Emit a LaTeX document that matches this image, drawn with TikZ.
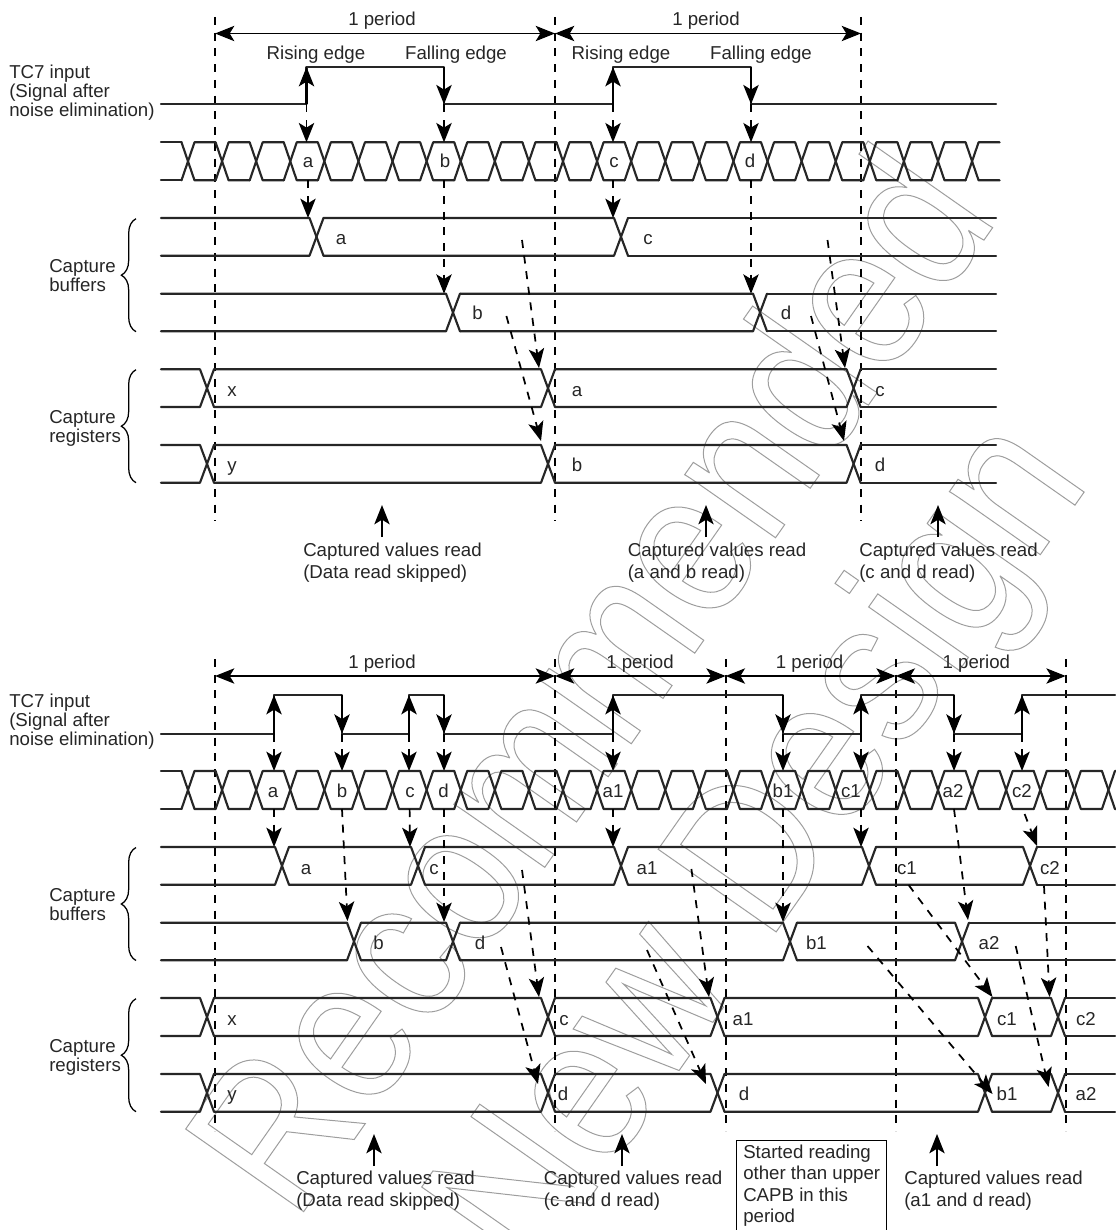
\documentclass[tikz,border=0pt]{standalone}
\usepackage{fontspec}
\setmainfont{Liberation Sans}
\newfontfamily\markfont[FakeStretch=0.865]{Liberation Sans}
\usetikzlibrary{arrows.meta,decorations.pathreplacing}

\newcommand{\lane}[5]{%
  \foreach \c [remember=\c as \p (initially #3-7)] in {#4} {
    \draw[wire] (\p+7,#1) -- (\c-7,#1) -- (\c+7,#2);
    \draw[wire] (\p+7,#2) -- (\c-7,#2) -- (\c+7,#1);
    \xdef\lastc{\c}
  }
  \draw[wire] (\lastc+7,#1) -- (#5,#1);
  \draw[wire] (\lastc+7,#2) -- (#5,#2);
}

\newcommand{\buslane}[3]{%
  \draw[wire] (161,#1) -- (181.5,#1);
  \draw[wire] (161,#2) -- (181.5,#2);
  \foreach \k in {0,...,#3} {
    \pgfmathsetmacro{\c}{188+34.09*\k}
    \draw[wire] (\c-6.5,#1) -- (\c+6.5,#2) -- (\c+27.59,#2);
    \draw[wire] (\c-6.5,#2) -- (\c+6.5,#1) -- (\c+27.59,#1);
  }
}

\newcommand{\hollowtext}[1]{\special{pdf:code 1 Tr 0.75 w 0.62 G}#1\special{pdf:code 0 Tr}}

\begin{document}
\begin{tikzpicture}[
    x=0.75pt,
    y=-0.75pt,
    bigtip/.tip={Stealth[length=14.5pt,width=11.5pt,inset=3.5pt]},
    textfont/.style={
        font=\fontsize{14}{#1}\selectfont,
        text=black!85
    },
    wire/.style={
        draw=black!85,
        line width=1.6pt,
        line cap=round,
        line join=round
    },
    guide/.style={
        black,
        line width=1.3pt,
        dash pattern=on 6pt off 5.8pt
    },
    arrow/.style={
        -bigtip,
        black,
        line width=1.6pt
    },
    dasharrow/.style={
        -bigtip,
        black,
        line width=1.3pt,
        dash pattern=on 6pt off 5.8pt
    },
    span/.style={
        bigtip-bigtip,
        black,
        line width=1.2pt
    },
    readarrow/.style={
        -bigtip,
        black,
        line width=1.1pt
    },
    curly/.style={
        decorate,
        decoration={brace,amplitude=11pt,aspect=0.5},
        black,
        line width=0.95pt
    },
    tag/.style={
        textfont=15,
        anchor=base,
        inner sep=0pt
    },
    side/.style={
        textfont=14.25,
        anchor=west,
        align=left,
        inner sep=0pt
    },
    note/.style={
        textfont=16.5,
        anchor=west,
        align=left,
        inner sep=0pt
    },
    remark/.style={
        textfont=16,
        draw=black,
        line width=1.1pt,
        anchor=north west,
        align=left,
        minimum width=112.5pt,
        minimum height=72pt,
        inner xsep=4.5pt,
        inner ysep=0pt
    },
    hollow/.style={
        font=\markfont\fontsize{157}{160}\selectfont,
        anchor=base west,
        rotate=55,
        inner sep=0pt
    }
]
\useasboundingbox (0,0) rectangle (1115,1230);

\node[hollow] (markrec) at (295,1224) {\hollowtext{Recommended}};
\node[hollow] (markdes) at (531,1282) {\hollowtext{New Design}};

\foreach \x in {215,555,861} {
    \draw[guide] (\x,17) -- (\x,521);
}

\foreach \xa/\xb/\xt/\n in {215/555/382/a, 555/861/706/b} {
    \coordinate (pfrom\n) at (\xa,33.5);
    \coordinate (pto\n) at (\xb,33.5);
    \draw[span] (pfrom\n) -- (pto\n);
    \node[tag] (ptext\n) at (\xt,25.7) {1 period};
}

\node[tag] (risea) at (316,59.3) {Rising edge};
\node[tag] (falla) at (456,59.3) {Falling edge};
\node[tag] (riseb) at (621,59.3) {Rising edge};
\node[tag] (fallb) at (761,59.3) {Falling edge};

\node[side] (tcinput) at (9,92.5) {TC7 input\\(Signal after\\noise elimination)};
\draw[wire] (161,104.3) -| (306.5,67) -| (444,104.3) -| (613,67) -| (751,104.3) -- (996,104.3);
\foreach \x/\ya/\yb/\n in {306.5/104.3/67/a, 444/67/104.3/b, 613/104.3/67/c, 751/67/104.3/d} {
    \coordinate (edgefrom\n) at (\x,\ya);
    \coordinate (edgeto\n) at (\x,\yb);
    \draw[arrow] (edgefrom\n) -- (edgeto\n);
}

\buslane{142.3}{180.3}{23}
\foreach \x/\t in {308/a, 445/b, 614/c, 750/d} {
    \node[tag] (slot\t) at (\x,168) {\t};
}
\foreach \x/\n in {306.5/a, 444/b, 613/c, 751/d} {
    \coordinate (latch\n) at (\x,104.3);
    \coordinate (slottop\n) at (\x,142.3);
    \draw[dasharrow] (latch\n) -- (slottop\n);
}

\lane{218}{255.7}{161}{316.5,621}{996}
\lane{293.7}{331.3}{161}{453,760}{996}
\node[tag] (bufa) at (341,244.3) {a};
\node[tag] (bufc) at (648,244.3) {c};
\node[tag] (bufb) at (477.5,320) {b};
\node[tag] (bufd) at (786,320) {d};

\foreach \x/\y/\n in {308/218/a, 444/293.7/b, 613/218/c, 751/293.7/d} {
    \coordinate (slotlow\n) at (\x,180.3);
    \coordinate (bufin\n) at (\x,\y);
    \draw[dasharrow] (slotlow\n) -- (bufin\n);
}

\coordinate (bufbot) at (136,331.7);
\coordinate (buftop) at (136,218.7);
\draw[curly] (bufbot) -- (buftop);
\node[side] (bufname) at (49,275.5) {Capture\\buffers};

\lane{369.3}{407}{161}{207,548,853.6}{996}
\lane{445}{482.7}{161}{207,548,853.6}{996}
\foreach \x/\t/\n in {232/x/a, 577/a/b, 880/c/c} {
    \node[tag] (regu\n) at (\x,396) {\t};
}
\foreach \x/\t/\n in {232/y/a, 577/b/b, 880/d/c} {
    \node[tag] (regl\n) at (\x,471) {\t};
}

\foreach \xa/\ya/\xb/\yb/\n in {522/240/539/368/a, 506.4/316/541/441/b, 827.5/240/845/368/c, 811/316/844/441/d} {
    \coordinate (movefrom\n) at (\xa,\ya);
    \coordinate (moveto\n) at (\xb,\yb);
    \draw[dasharrow] (movefrom\n) -- (moveto\n);
}

\coordinate (regbot) at (136,482.7);
\coordinate (regtop) at (136,369.7);
\draw[curly] (regbot) -- (regtop);
\node[side] (regname) at (49,428) {Capture\\registers};

\node[note] (reada) at (303,563) {Captured values read\\(Data read skipped)};
\node[note] (readb) at (627.5,563) {Captured values read\\(a and b read)};
\node[note] (readc) at (859,563) {Captured values read\\(c and d read)};
\foreach \x/\n in {382/a, 706/b, 938/c} {
    \coordinate (readfrom\n) at (\x,537);
    \coordinate (readto\n) at (\x,505);
    \draw[readarrow] (readfrom\n) -- (readto\n);
}

\foreach \x in {215,555,725.7,895.7,1065.7} {
    \draw[guide] (\x,659) -- (\x,1131);
}

\foreach \xa/\xb/\xt/\n in {215/555/382/c, 555/725.7/640/d, 725.7/895.7/809.6/e, 895.7/1065.7/976.4/f} {
    \coordinate (pfrom\n) at (\xa,676);
    \coordinate (pto\n) at (\xb,676);
    \draw[span] (pfrom\n) -- (pto\n);
    \node[tag] (ptext\n) at (\xt,668.3) {1 period};
}

\node[side] (tcinputb) at (9,721.5) {TC7 input\\(Signal after\\noise elimination)};
\draw[wire] (161,733.7) -| (274,695) -| (342,733.7) -| (409,695) -| (444,733.7) -| (613,695) -| (783,733.7) -| (861,695) -| (954,733.7) -| (1022,695) -- (1115,695);
\foreach \x/\ya/\yb/\n in {274/733.7/695/e, 342/695/733.7/f, 409/733.7/695/g, 444/695/733.7/h, 613/733.7/695/i, 783/695/733.7/j, 861/733.7/695/k, 954/695/733.7/l, 1022/733.7/695/m} {
    \coordinate (edgefrom\n) at (\x,\ya);
    \coordinate (edgeto\n) at (\x,\yb);
    \draw[arrow] (edgefrom\n) -- (edgeto\n);
    \coordinate (latch\n) at (\x,733.7);
    \coordinate (slottop\n) at (\x,771);
    \draw[dasharrow] (latch\n) -- (slottop\n);
}

\buslane{771}{809}{27}
\foreach \x/\t in {273/a, 342/b, 410/c, 443.6/d, 613/a1, 783/b1, 851/c1, 953/a2, 1022/c2} {
    \node[tag] (slotb\t) at (\x,797) {\t};
}

\lane{847}{884.7}{161}{282,418,621,869,1030}{1115}
\lane{922.7}{960.3}{161}{354,453,790,962}{1115}
\foreach \x/\t in {306/a, 434/c, 647/a1, 907/c1, 1050/c2} {
    \node[tag] (bufu\t) at (\x,874) {\t};
}
\foreach \x/\t in {378.6/b, 480/d, 816.4/b1, 989/a2} {
    \node[tag] (bufl\t) at (\x,949) {\t};
}

\foreach \xa/\ya/\xb/\yb/\n in {274/809/274/847/e, 342/809/347.5/921/f, 409.6/809/410/847/g, 444/809/444/922/h, 613/809/613/847/i, 783/809/783/922/j, 861/809/861/847/k, 954/809/968/920/l, 1024.6/814/1037/846/m} {
    \coordinate (slotlow\n) at (\xa,\ya);
    \coordinate (bufin\n) at (\xb,\yb);
    \draw[dasharrow] (slotlow\n) -- (bufin\n);
}

\coordinate (bufbotb) at (136,960.5);
\coordinate (buftopb) at (136,847.5);
\draw[curly] (bufbotb) -- (buftopb);
\node[side] (bufnameb) at (49,905) {Capture\\buffers};

\lane{998}{1036}{161}{207,548,717.5,985,1058}{1115}
\lane{1074}{1111.7}{161}{207,548,717.5,985,1058}{1115}
\foreach \x/\t in {232/x, 564/c, 743/a1, 1007/c1, 1086/c2} {
    \node[tag] (regu\t) at (\x,1025) {\t};
}
\foreach \x/\t/\n in {232/y/a, 563/d/b, 744/d/c, 1007/b1/d, 1086/a2/e} {
    \node[tag] (regl2\n) at (\x,1100) {\t};
}

\foreach \xa/\ya/\xb/\yb/\n in {522/870/539/997/e, 501/947/538/1084/f, 691.4/869/709/997/g, 647/950/706/1084/h, 908.6/885/992.5/997/i, 867.5/946/992.5/1094/j, 1044/886/1049.6/997/k, 1015.7/946/1048.6/1087/l} {
    \coordinate (movefrom\n) at (\xa,\ya);
    \coordinate (moveto\n) at (\xb,\yb);
    \draw[dasharrow] (movefrom\n) -- (moveto\n);
}

\coordinate (regbotb) at (136,1111.7);
\coordinate (regtopb) at (136,998.7);
\draw[curly] (regbotb) -- (regtopb);
\node[side] (regnameb) at (49,1057) {Capture\\registers};

\node[note] (readd) at (296,1191) {Captured values read\\(Data read skipped)};
\node[note] (reade) at (543.6,1191) {Captured values read\\(c and d read)};
\node[note] (readf) at (904,1191) {Captured values read\\(a1 and d read)};
\foreach \x/\n in {374/d, 622/e, 937/f} {
    \coordinate (readfrom\n) at (\x,1166);
    \coordinate (readto\n) at (\x,1134);
    \draw[readarrow] (readfrom\n) -- (readto\n);
}

\node[remark] (started) at (736,1140) {Started reading\\other than upper\\CAPB in this\\period\rule[-7.5pt]{0pt}{7.5pt}};

\end{tikzpicture}
\end{document}
